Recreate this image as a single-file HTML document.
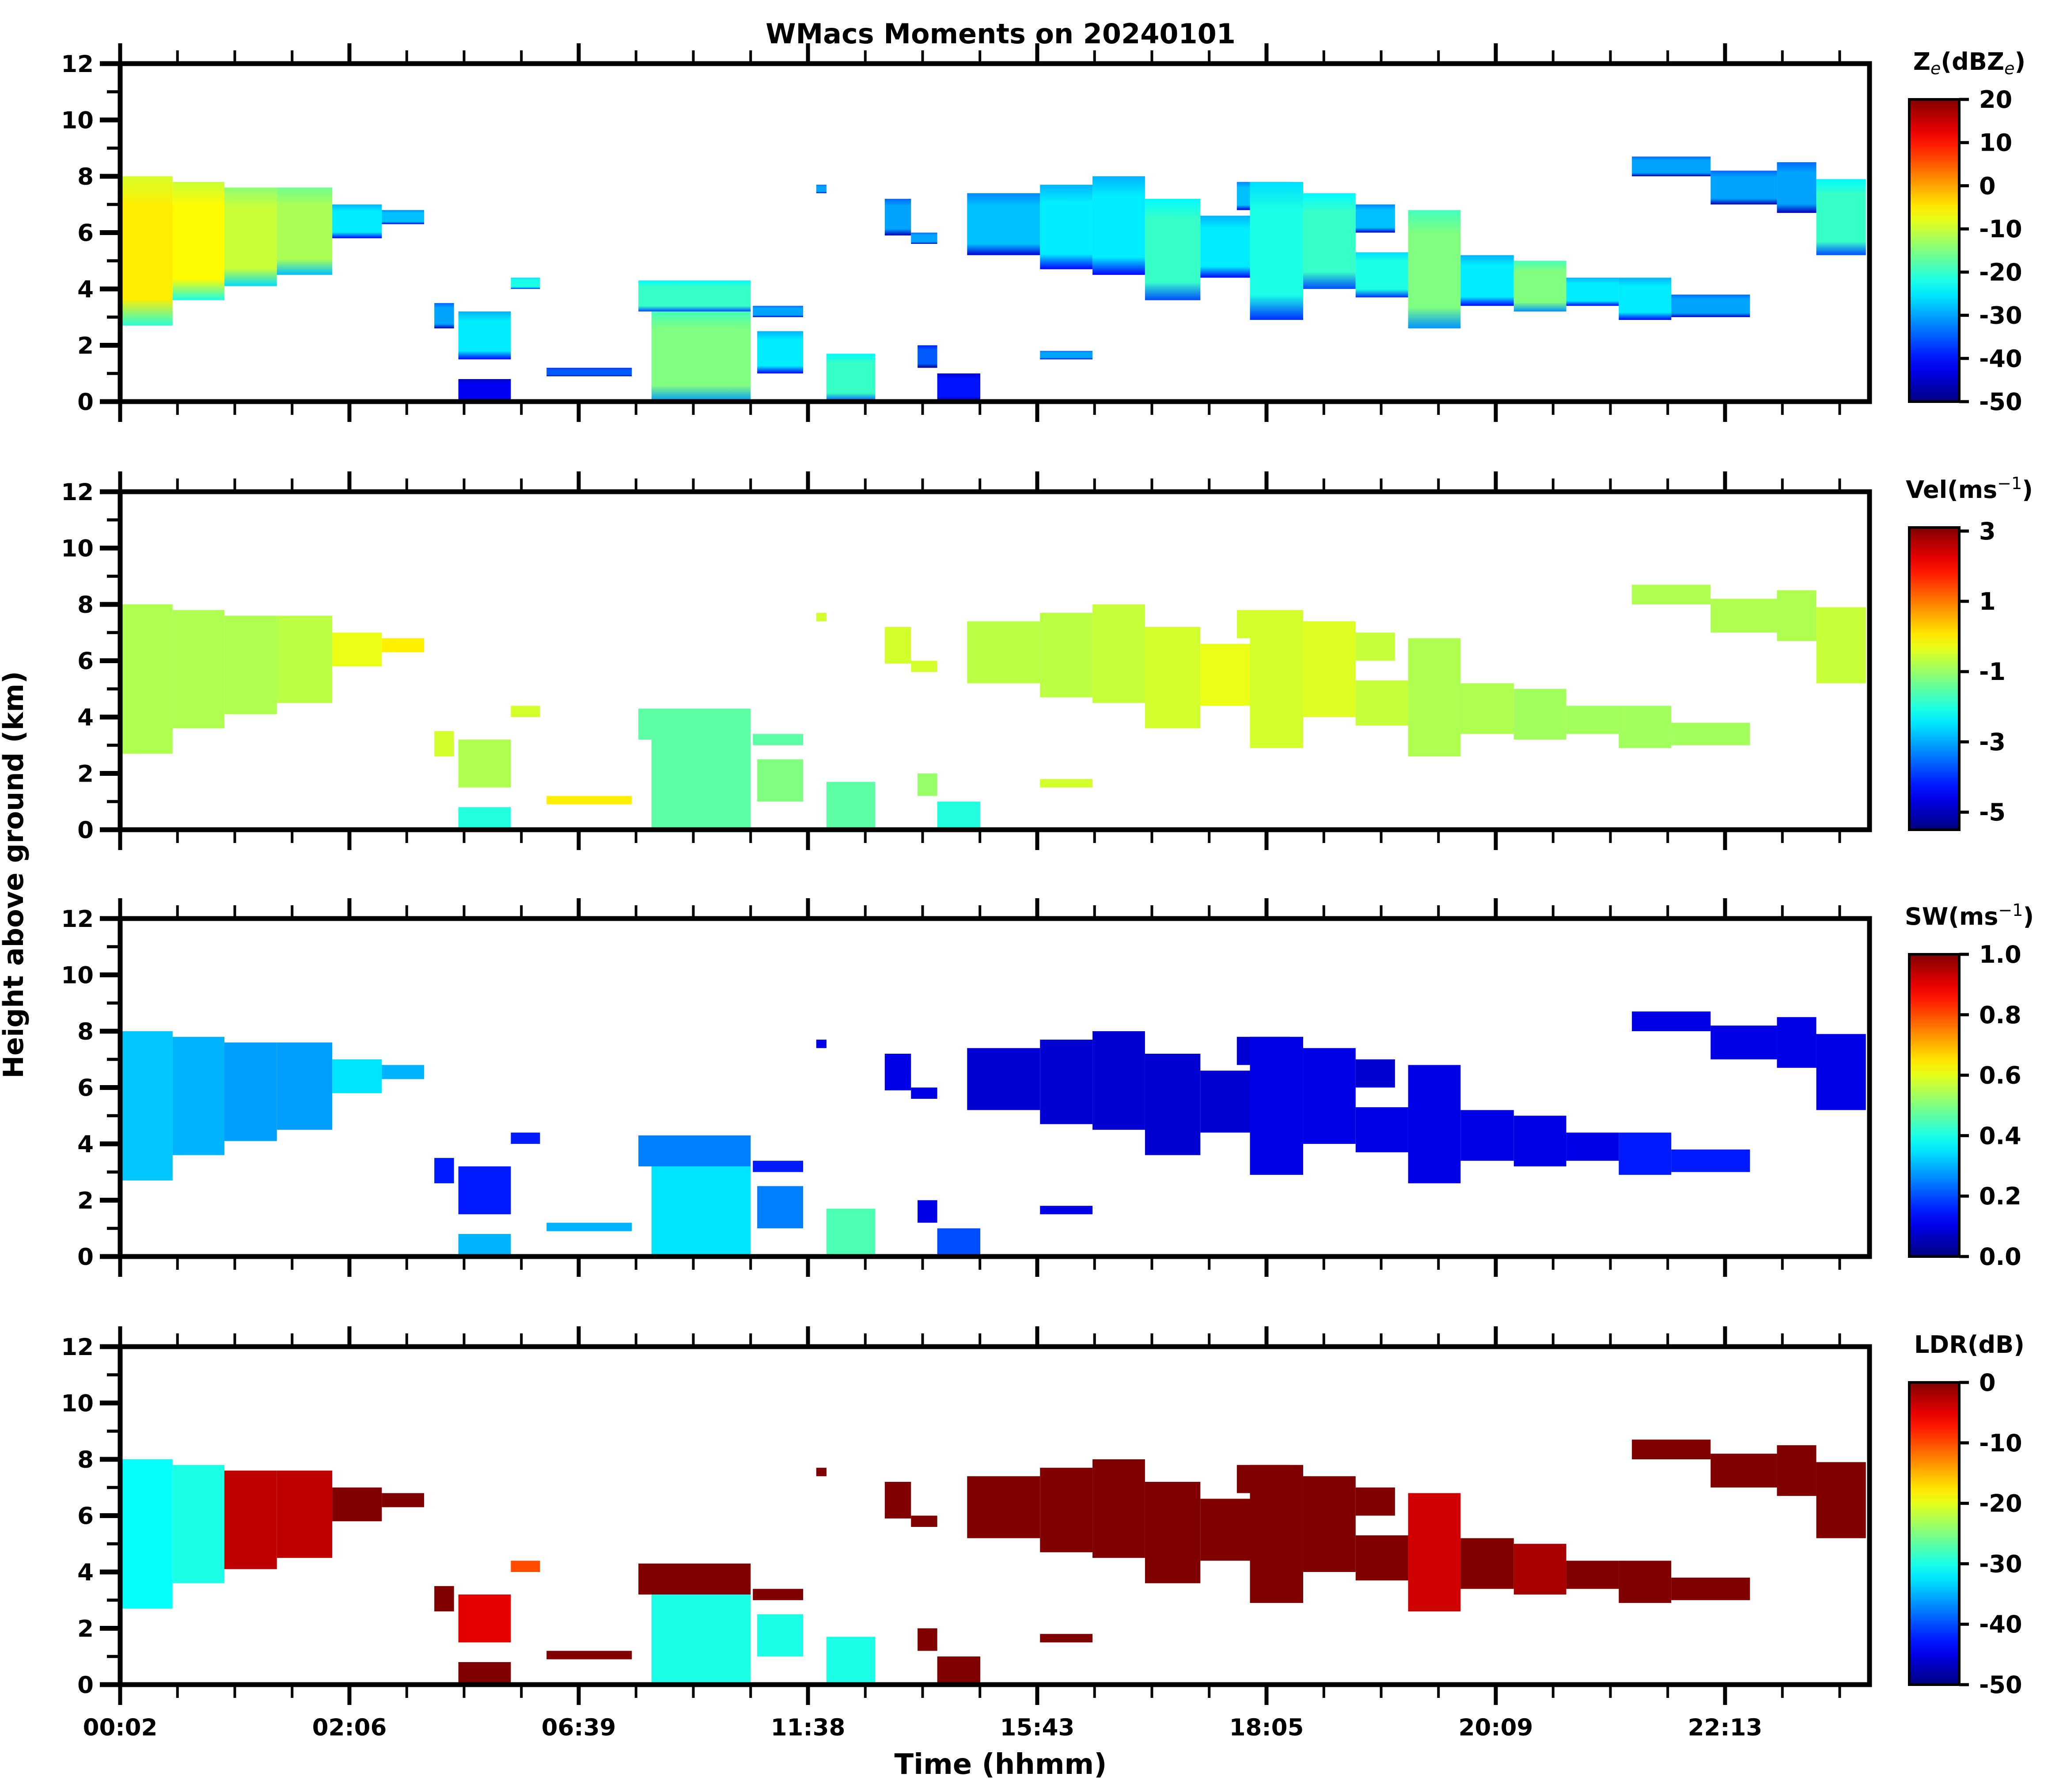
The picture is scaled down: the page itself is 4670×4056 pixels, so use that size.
<!DOCTYPE html>
<html><head><meta charset="utf-8"><title>WMacs Moments on 20240101</title>
<style>
html,body{margin:0;padding:0;background:#fff;}
svg{display:block;font-family:"DejaVu Sans","Liberation Sans",sans-serif;font-weight:bold;}
</style></head>
<body>
<svg id="fig" xmlns="http://www.w3.org/2000/svg" width="4670" height="4056" viewBox="0 0 4670 4056">
<rect width="4670" height="4056" fill="#fff"/>
<text x="2265" y="98" font-size="62" text-anchor="middle">WMacs Moments on 20240101</text>
<text transform="translate(52,1980) rotate(-90)" font-size="62" text-anchor="middle">Height above ground (km)</text>
<text x="2265" y="4015" font-size="64" text-anchor="middle">Time (hhmm)</text>
<g id="panels"></g>
</svg>
<script>
// ---- data (time in hours, heights in km) ----
const blockStart = [0,0.72,1.43,2.15,2.91,3.59,4.31,4.64,5.36,4.64,5.85,7.11,7.29,8.68,8.74,9.55,9.69,10.49,10.85,10.94,11.21,12.62,11.62,12.62,13.34,14.06,14.82,15.32,15.5,16.23,16.95,16.95,17.67,18.39,19.12,19.84,20.56,21.28,20.74,21.82,22.73,23.27];
const blockEnd   = [0.72,1.43,2.15,2.91,3.59,4.17,4.58,5.36,5.76,5.36,7.02,8.65,8.65,9.37,9.37,9.69,10.36,10.85,11.21,11.21,11.8,13.34,12.62,13.34,14.06,14.82,15.5,16.05,16.23,16.95,17.67,17.49,18.39,19.12,19.84,20.56,21.28,22.36,21.82,22.73,23.27,23.95];
const blockBase  = [2.7,3.6,4.1,4.5,5.8,6.3,2.6,1.5,4.0,0,0.9,3.2,0,3.0,1.0,7.4,0,5.9,5.6,1.2,0,1.5,5.2,4.7,4.5,3.6,4.4,6.8,2.9,4.0,3.7,6.0,2.6,3.4,3.2,3.4,2.9,3.0,8.0,7.0,6.7,5.2];
const blockTop   = [8.0,7.8,7.6,7.6,7.0,6.8,3.5,3.2,4.4,0.8,1.2,4.3,3.2,3.4,2.5,7.7,1.7,7.2,6.0,2.0,1.0,1.8,7.4,7.7,8.0,7.2,6.6,7.8,7.8,7.4,5.3,7.0,6.8,5.2,5.0,4.4,4.4,3.8,8.7,8.2,8.5,7.9];
const zeVals  = [-5,-6,-10,-12,-25,-28,-30,-25,-22,-42,-35,-20,-15,-30,-25,-30,-20,-30,-30,-35,-40,-30,-28,-25,-25,-20,-25,-28,-22,-20,-22,-28,-15,-25,-15,-25,-25,-30,-30,-30,-30,-20];
const velVals = [-0.8,-0.8,-0.8,-0.7,-0.3,0,-0.5,-0.8,-0.5,-2,0,-1.5,-1.5,-1.5,-1.2,-0.5,-1.5,-0.5,-0.5,-1,-2,-0.5,-0.7,-0.7,-0.6,-0.5,-0.3,-0.5,-0.5,-0.4,-0.6,-0.6,-0.8,-0.8,-0.9,-0.9,-0.9,-0.9,-0.8,-0.8,-0.8,-0.6];
const swVals  = [0.32,0.3,0.28,0.28,0.35,0.3,0.15,0.15,0.15,0.3,0.3,0.25,0.35,0.15,0.25,0.1,0.45,0.1,0.1,0.1,0.2,0.1,0.08,0.08,0.08,0.08,0.08,0.08,0.1,0.1,0.1,0.08,0.1,0.1,0.1,0.1,0.15,0.15,0.1,0.1,0.1,0.1];
const ldrVals = [-31,-30,-3,-3,0,0,0,-5,-10,0,0,0,-30,0,-30,0,-30,0,0,0,0,0,0,0,0,0,0,0,0,0,0,0,-4,0,-2,0,0,0,0,0,0,0];
const timeTickLabels = ["00:02","02:06","06:39","11:38","15:43","18:05","20:09","22:13"];
const heightTicks = [0,2,4,6,8,10,12];
const panelNames = ["ze","vel","sw","ldr"];
const panelTitles = [["Z","e","(dBZ","e",")"],["Vel(ms","−1",")"],["SW(ms","−1",")"],["LDR(dB)"]];
const cbMin = [-50,-5.5,0,-50];
const cbMax = [20,3.1,1,0];
const cbTicks0 = [-50,-40,-30,-20,-10,0,10,20];
const cbTicks1 = [-5,-3,-1,1,3];
const cbTicks2 = [0,0.2,0.4,0.6,0.8,1.0];
const cbTicks3 = [-50,-40,-30,-20,-10,0];

// ---- layout ----
const NS="http://www.w3.org/2000/svg";
const X0=272, X1=4232;
const panelTops=[144,1113,2079,3048], PH=765;
const MAJOR=519, MINOR=129.75;
function xScale(h){return X0+(h/24)*(X1-X0);}
function yScale(p,km){return panelTops[p]+PH-(km/12)*PH;}
function jet(v){v=Math.max(0,Math.min(1,v));
 const c=t=>Math.round(255*Math.max(0,Math.min(1,1.5-Math.abs(t))));
 return `rgb(${c(4*v-3)},${c(4*v-2)},${c(4*v-1)})`;}
function mk(tag,attrs,parent){const e=document.createElementNS(NS,tag);for(const k in attrs)e.setAttribute(k,attrs[k]);parent.appendChild(e);return e;}
const root=document.getElementById('panels');
const defs=mk('defs',{},root);
const valueSets=[zeVals,velVals,swVals,ldrVals];
const tickSets=[cbTicks0,cbTicks1,cbTicks2,cbTicks3];

for(let p=0;p<4;p++){
 const g=mk('g',{},root);
 
 
 const norm=v=>(v-cbMin[p])/(cbMax[p]-cbMin[p]);
 for(let i=0;i<blockStart.length;i++){
  const v=valueSets[p][i];
  let fill=jet(norm(v));
  if(p===0){
   const id='gz'+i;
   const lg=mk('linearGradient',{id:id,x1:0,y1:0,x2:0,y2:1},defs);
   mk('stop',{offset:'0',  'stop-color':jet(norm(v-4))},lg);
   mk('stop',{offset:'0.2','stop-color':fill},lg);
   mk('stop',{offset:'0.82','stop-color':fill},lg);
   mk('stop',{offset:'1',  'stop-color':jet(norm(v-16))},lg);
   fill='url(#'+id+')';
  }
  const x=xScale(blockStart[i]), w=xScale(blockEnd[i])-x;
  const yT=yScale(p,blockTop[i]), yB=yScale(p,blockBase[i]);
  const r=mk('rect',{x:x,y:yT,width:w,height:yB-yT,fill:fill},g);
  
  
 }
 const top=panelTops[p], bot=top+PH;
 const fr=mk('rect',{x:X0,y:top,width:X1-X0,height:PH,fill:'none',stroke:'#000','stroke-width':11},g);
 
 
 for(let k=0;k<=12;k++){
  const y=yScale(p,k); const major=k%2===0;
  mk('line',{x1:X0-(major?46:30),x2:X0,y1:y,y2:y,stroke:'#000','stroke-width':major?11:7},g);
 }
 for(const k of heightTicks){
  const t=mk('text',{x:X0-60,y:yScale(p,k)+19,'font-size':53,'text-anchor':'end'},g);
  t.textContent=k;
  
  
 }
 for(let k=0;X0+k*MINOR<=X1+1;k++){
  const x=X0+k*MINOR; const major=k%4===0; const L=major?46:30;
  mk('line',{x1:x,x2:x,y1:top-L,y2:top,stroke:'#000','stroke-width':major?9:6},g);
  mk('line',{x1:x,x2:x,y1:bot,y2:bot+L,stroke:'#000','stroke-width':major?9:6},g);
 }
 const cbx=4322, cbw=113, cbt=top+81, cbb=bot;
 const gid='cb'+p;
 const lg=mk('linearGradient',{id:gid,x1:0,y1:1,x2:0,y2:0},defs);
 for(let s=0;s<=20;s++){mk('stop',{offset:s/20,'stop-color':jet(s/20)},lg);}
 const cb=mk('rect',{x:cbx,y:cbt,width:cbw,height:cbb-cbt,fill:'url(#'+gid+')',stroke:'#000','stroke-width':6},g);
 
 
 for(const tv of tickSets[p]){
  const y=cbb-(tv-cbMin[p])/(cbMax[p]-cbMin[p])*(cbb-cbt);
  mk('line',{x1:cbx+cbw,x2:cbx+cbw+22,y1:y,y2:y,stroke:'#000','stroke-width':7},g);
  const t=mk('text',{x:cbx+cbw+45,y:y+19,'font-size':54},g);
  t.textContent=(p===2?tv.toFixed(1):String(tv));
  
  
 }
 const tt=mk('text',{x:4458,y:top+14,'font-size':54,'text-anchor':'middle'},g);
 
 
 const parts=panelTitles[p];
 parts.forEach((s,j)=>{
  const ts=mk('tspan',{},tt);
  if(p===0&&(j===1||j===3)){ts.setAttribute('font-style','italic');ts.setAttribute('font-weight','normal');ts.setAttribute('font-size','38');ts.setAttribute('dy','10');}
  else if(p>0&&j===1){ts.setAttribute('font-weight','normal');ts.setAttribute('font-size','38');ts.setAttribute('dy','-20');}
  else if(j>0){ts.setAttribute('dy',p===0?'-10':'20');}
  ts.textContent=s;
 });
}
timeTickLabels.forEach((s,k)=>{
 const t=mk('text',{x:X0+k*MAJOR,y:3928,'font-size':53,'text-anchor':'middle'},root);
 t.textContent=s;
 
 
});
</script>
</body></html>
